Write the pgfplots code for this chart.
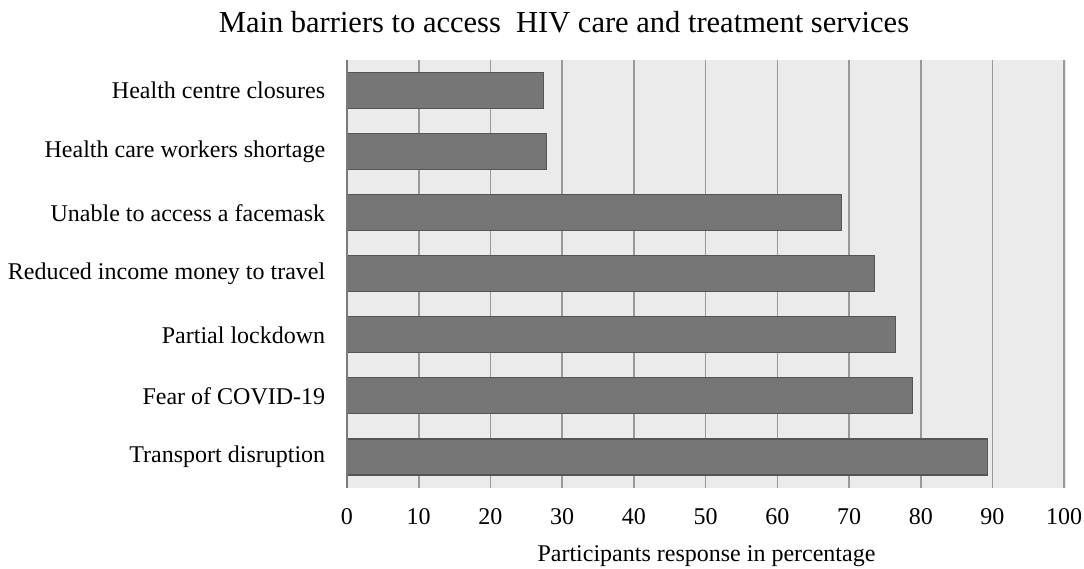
\documentclass[border=0pt]{standalone}
\usepackage{pgfplots}
\pgfplotsset{compat=1.18}
\usepackage{fontspec}
\setmainfont{Liberation Serif}
\definecolor{bgc}{HTML}{EBEBEB}
\definecolor{barc}{HTML}{767676}
\definecolor{barb}{HTML}{555555}
\definecolor{gridc}{HTML}{999999}
\begin{document}
\begin{tikzpicture}[x=1pt,y=1pt]
\useasboundingbox (-347,-80.5) rectangle (737,487.5);
\fill[white] (-347,-80.5) rectangle (737,487.5);
\begin{axis}[
  at={(0,0)}, anchor=south west,
  scale only axis, width=719pt, height=427.5pt,
  xmin=0, xmax=100.25, ymin=-0.5, ymax=6.5,
  axis background/.style={fill=bgc},
  axis line style={draw=none},
  axis x line*=bottom, axis y line*=left,
  xtick={0,10,...,100},
  ytick={0,...,6},
  yticklabels={Transport disruption,Fear of COVID-19,Partial lockdown,Reduced income money to travel,Unable to access a facemask,Health care workers shortage,Health centre closures},
  tick style={draw=none},
  xmajorgrids, grid style={gridc, line width=1.6pt},
  /pgf/number format/assume math mode=true,
  ticklabel style={font=\fontsize{24}{28}\selectfont},
  xticklabel style={yshift=-18pt},
  yticklabel style={xshift=-14pt},
  xlabel={Participants response in percentage},
  xlabel style={font=\fontsize{24}{28}\selectfont, yshift=-14pt},
  xbar, bar width=36pt,
  clip=false,
]
\addplot[fill=barc, draw=barb, line width=1.2pt] coordinates {
(89.3,0) (78.9,1) (76.5,2) (73.6,3) (69.0,4) (27.8,5) (27.4,6)};
\draw[gridc!80!black, line width=1.8pt] (axis cs:0,-0.5) -- (axis cs:0,6.5);
\end{axis}
\node[font=\fontsize{30.5}{36}\selectfont] at (217,465) {Main barriers to access\ \ HIV care and treatment services};
\end{tikzpicture}
\end{document}
